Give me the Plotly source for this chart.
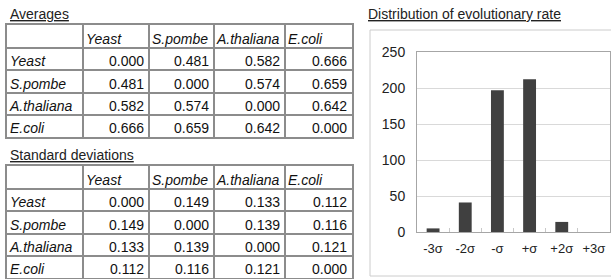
import plotly.graph_objects as go

W, H = 611, 279

species = ["Yeast", "S.pombe", "A.thaliana", "E.coli"]
averages = [
    [0.000, 0.481, 0.582, 0.666],
    [0.481, 0.000, 0.574, 0.659],
    [0.582, 0.574, 0.000, 0.642],
    [0.666, 0.659, 0.642, 0.000],
]
std_devs = [
    [0.000, 0.149, 0.133, 0.112],
    [0.149, 0.000, 0.139, 0.116],
    [0.133, 0.139, 0.000, 0.121],
    [0.112, 0.116, 0.121, 0.000],
]
sigma_labels = ["-3σ", "-2σ", "-σ", "+σ", "+2σ", "+3σ"]
counts = [5, 41, 197, 212, 14, 0]
y_ticks = [0, 50, 100, 150, 200, 250]

FONT = "Arial, Liberation Sans, sans-serif"
TXT = "#111111"
LINE = "#8c8c8c"

COL_EDGES = [7, 83, 149, 214, 285, 352]
HEADER_H = 23
ROW_H = 22.25
TABLE_TOPS = [25, 166]


def px_x(x):
    return x / W


def px_y(y):
    return min(1.0, max(0.0, 1 - y / H))


fig = go.Figure()

layout_axes = {}
for t, (matrix, top) in enumerate(zip([averages, std_devs], TABLE_TOPS)):
    n = len(species)
    row_edges = [top, top + HEADER_H] + [top + HEADER_H + ROW_H * (k + 1) for k in range(n)]
    bottom = row_edges[-1]
    xa, ya = f"x{t + 2}", f"y{t + 2}"
    text_y = lambda k: row_edges[k + 1] - 7.5

    fig.add_trace(go.Scatter(
        x=[COL_EDGES[j + 1] + 3 for j in range(n)],
        y=[text_y(0)] * n,
        text=species, mode="text", textposition="middle right",
        textfont=dict(family=FONT, size=14, color=TXT, style="italic"),
        xaxis=xa, yaxis=ya, hoverinfo="skip", cliponaxis=False,
    ))
    fig.add_trace(go.Scatter(
        x=[COL_EDGES[0] + 3] * n,
        y=[text_y(i + 1) for i in range(n)],
        text=species, mode="text", textposition="middle right",
        textfont=dict(family=FONT, size=14, color=TXT, style="italic"),
        xaxis=xa, yaxis=ya, hoverinfo="skip", cliponaxis=False,
    ))
    xs, ys, ts = [], [], []
    for i in range(n):
        for j in range(n):
            xs.append(COL_EDGES[j + 2] - 5)
            ys.append(text_y(i + 1))
            ts.append(f"{matrix[i][j]:.3f}")
    fig.add_trace(go.Scatter(
        x=xs, y=ys, text=ts, mode="text", textposition="middle left",
        textfont=dict(family=FONT, size=14, color=TXT),
        xaxis=xa, yaxis=ya, hoverinfo="skip", cliponaxis=False,
    ))

    layout_axes[f"xaxis{t + 2}"] = dict(
        domain=[px_x(COL_EDGES[0]), px_x(COL_EDGES[-1])],
        range=[COL_EDGES[0], COL_EDGES[-1]],
        anchor=ya, tickvals=COL_EDGES[1:-1], showticklabels=False, ticks="",
        showgrid=True, gridcolor=LINE, gridwidth=2, zeroline=False,
        showline=True, mirror=True, linecolor=LINE, linewidth=2, fixedrange=True,
    )
    layout_axes[f"yaxis{t + 2}"] = dict(
        domain=[px_y(bottom), px_y(top)],
        range=[bottom, top],
        anchor=xa, tickvals=row_edges[1:-1], showticklabels=False, ticks="",
        showgrid=True, gridcolor=LINE, gridwidth=2, zeroline=False,
        showline=True, mirror=True, linecolor=LINE, linewidth=2, fixedrange=True,
    )

fig.add_trace(
    go.Bar(
        x=sigma_labels,
        y=counts,
        marker=dict(color="#404040", line=dict(width=0)),
        xaxis="x",
        yaxis="y",
        hoverinfo="x+y",
    )
)

fig.update_layout(
    width=W,
    height=H,
    margin=dict(l=0, r=0, t=0, b=0, pad=0, autoexpand=False),
    paper_bgcolor="white",
    plot_bgcolor="white",
    showlegend=False,
    bargap=0.6,
    xaxis=dict(
        domain=[px_x(417), px_x(610)],
        type="category",
        showline=True, mirror=True, linecolor="#a6a6a6", linewidth=1,
        showgrid=False,
        ticks="inside", tickson="boundaries", ticklen=4, tickcolor="#c8c8c8",
        tickfont=dict(family=FONT, size=13, color="#222"),
        ticklabelstandoff=4,
        automargin=False,
        fixedrange=True,
    ),
    yaxis=dict(
        domain=[px_y(232), px_y(52)],
        range=[0, 250],
        tickvals=y_ticks,
        showline=True, mirror=True, linecolor="#a6a6a6", linewidth=1,
        showgrid=True, gridcolor="#d9d9d9", zeroline=False,
        ticks="",
        tickfont=dict(family=FONT, size=14, color="#222"),
        ticklabelstandoff=8,
        automargin=False,
        fixedrange=True,
    ),
    shapes=[
        dict(
            type="rect", xref="paper", yref="paper",
            x0=px_x(370), x1=px_x(640), y0=px_y(276), y1=px_y(30),
            line=dict(color="#cccccc", width=1),
            fillcolor="rgba(0,0,0,0)", layer="below",
        )
    ],
    annotations=[
        dict(text="<u>Averages</u>", xref="paper", yref="paper",
             x=px_x(8), y=px_y(14), xanchor="left", yanchor="middle",
             showarrow=False, font=dict(family=FONT, size=14, color="#222")),
        dict(text="<u>Standard deviations</u>", xref="paper", yref="paper",
             x=px_x(8), y=px_y(155), xanchor="left", yanchor="middle",
             showarrow=False, font=dict(family=FONT, size=14, color="#222")),
        dict(text="<u>Distribution of evolutionary rate</u>", xref="paper", yref="paper",
             x=px_x(366), y=px_y(14), xanchor="left", yanchor="middle",
             showarrow=False, font=dict(family=FONT, size=14, color="#222")),
    ],
    **layout_axes,
)

fig.write_html(
    "out.html",
    config={"displayModeBar": False},
    post_script=(
        "document.documentElement.style.margin='0';"
        "document.body.style.margin='0';document.body.style.overflow='hidden';"
        "var gd=document.querySelector('.plotly-graph-div');"
        "gd.style.position='fixed';gd.style.top='0px';gd.style.left='0px';"
    ),
)
